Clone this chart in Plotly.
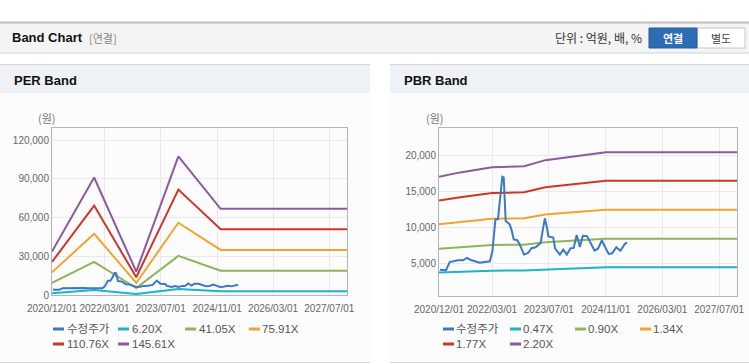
import plotly.graph_objects as go

W, H = 749, 364

# ---------------- data ----------------
price_dates = ["2020-12-09", "2021-01-30", "2021-03-03", "2021-05-13", "2021-06-25", "2021-07-29",
               "2021-09-06", "2021-10-18", "2021-11-16", "2021-12-29", "2022-02-10", "2022-03-04",
               "2022-03-30", "2022-04-21", "2022-05-12", "2022-05-28", "2022-06-09", "2022-06-20",
               "2022-06-26", "2022-07-30", "2022-08-14", "2022-09-03", "2022-10-03", "2022-10-24",
               "2022-11-30", "2023-01-04", "2023-02-02", "2023-03-10", "2023-04-22", "2023-05-06",
               "2023-05-28", "2023-06-15", "2023-06-27", "2023-08-08", "2023-08-24", "2023-10-04",
               "2023-11-02", "2023-12-02", "2024-01-04", "2024-01-30", "2024-02-25", "2024-03-23",
               "2024-04-18", "2024-05-24", "2024-06-19", "2024-07-27", "2024-08-25", "2024-09-28",
               "2024-10-30", "2024-11-25", "2024-12-25", "2025-01-30", "2025-03-05", "2025-04-10",
               "2025-05-01"]
price_values = [4080, 4000, 5140, 5380, 5380, 5700,
                5380, 5240, 5050, 5140, 5240, 6640,
                11080, 11080, 14100, 17000, 16900, 13640,
                10840, 10380, 9680, 8280, 8180, 7580,
                6180, 6400, 7060, 7200, 7800, 9200,
                11220, 9900, 8700, 8550, 7000, 6180,
                6880, 6180, 7060, 7100, 8900, 7250,
                8780, 8740, 7900, 6740, 7000, 8140,
                7100, 6260, 6360, 7200, 6700, 7580,
                7900]

per_dates = ["2020-12-01", "2021-12-01", "2022-12-01", "2023-12-01", "2024-12-01", "2027-12-01"]
per_6_20 = [1430, 3880, 770, 4570, 2950, 2950]
per_41_05 = [9470, 25660, 5300, 30250, 18810, 18810]
per_75_91 = [17520, 47440, 9300, 55940, 34900, 34900]
per_110_76 = [25560, 69220, 13770, 81620, 51000, 51000]
per_145_61 = [33600, 91000, 18100, 107300, 66700, 66700]

pbr_dates = ["2020-12-01", "2021-06-01", "2022-03-01", "2022-12-01", "2023-06-01",
             "2023-12-01", "2024-06-01", "2024-11-01", "2027-12-01"]
pbr_0_47 = [3700, 3800, 3940, 3960, 4140, 4220, 4300, 4400, 4400]
pbr_0_90 = [7000, 7220, 7500, 7560, 7900, 8060, 8210, 8360, 8360]
pbr_1_34 = [10400, 10740, 11150, 11240, 11760, 12000, 12230, 12400, 12400]
pbr_1_77 = [13680, 14160, 14720, 14840, 15530, 15850, 16150, 16430, 16430]
pbr_2_20 = [17000, 17600, 18300, 18450, 19300, 19700, 20080, 20400, 20400]

tick_dates = ["2020-12-01", "2022-03-01", "2023-07-01", "2024-11-01", "2026-03-01", "2027-07-01"]
tick_labels = ["2020/12/01", "2022/03/01", "2023/07/01", "2024/11/01", "2026/03/01", "2027/07/01"]

per_names = ["수정주가", "6.20X", "41.05X", "75.91X", "110.76X", "145.61X"]
pbr_names = ["수정주가", "0.47X", "0.90X", "1.34X", "1.77X", "2.20X"]
colors = ["#3a78c8", "#1eb3c8", "#8db45a", "#f0a431", "#cf3529", "#8c5aa0"]

# ---------------- helpers ----------------
def px(x):
    return x / W

def py(y):
    return 1 - y / H

KR = "Noto Sans CJK KR, Liberation Sans, sans-serif"
NUM = "Liberation Sans, Arial, Noto Sans CJK KR, sans-serif"

fig = go.Figure()

per_series = [per_6_20, per_41_05, per_75_91, per_110_76, per_145_61]
pbr_series = [pbr_0_47, pbr_0_90, pbr_1_34, pbr_1_77, pbr_2_20]

for i, s in enumerate(per_series):
    fig.add_trace(go.Scatter(x=per_dates, y=s, mode="lines", name=per_names[i + 1],
                             line=dict(color=colors[i + 1], width=2), xaxis="x", yaxis="y",
                             showlegend=False))
fig.add_trace(go.Scatter(x=price_dates, y=price_values, mode="lines", name=per_names[0],
                         line=dict(color=colors[0], width=2), xaxis="x", yaxis="y",
                         showlegend=False))

for i, s in enumerate(pbr_series):
    fig.add_trace(go.Scatter(x=pbr_dates, y=s, mode="lines", name=pbr_names[i + 1],
                             line=dict(color=colors[i + 1], width=2), xaxis="x2", yaxis="y2",
                             showlegend=False))
fig.add_trace(go.Scatter(x=price_dates, y=price_values, mode="lines", name=pbr_names[0],
                         line=dict(color=colors[0], width=2), xaxis="x2", yaxis="y2",
                         showlegend=False))

axis_common = dict(showline=True, linecolor="#b4b4b4", linewidth=1, mirror=True,
                   gridcolor="#e9e9e9", gridwidth=1, zeroline=False, ticks="",
                   automargin=False,
                   tickfont=dict(family=NUM, size=10, color="#666"))

xcommon = dict(axis_common, type="date", range=["2020-12-01", "2027-12-01"],
               tickvals=tick_dates, ticktext=tick_labels, tickangle=0,
               ticklabelstandoff=4,
               tickfont=dict(family=NUM, size=10, color="#666"))

fig.update_layout(
    width=W, height=H,
    margin=dict(l=0, r=0, t=0, b=0, autoexpand=False),
    paper_bgcolor="white", plot_bgcolor="white",
    xaxis=dict(xcommon, domain=[px(52), px(347)], anchor="y"),
    yaxis=dict(axis_common, domain=[py(295), py(128)], anchor="x",
               range=[0, 129300], tickvals=[0, 30000, 60000, 90000, 120000],
               tickformat=","),
    xaxis2=dict(xcommon, domain=[px(439), px(737)], anchor="y2"),
    yaxis2=dict(axis_common, domain=[py(296), py(128)], anchor="x2",
                range=[420, 23770], tickvals=[5000, 10000, 15000, 20000],
                tickformat=","),
)

shapes = []
ann = []

# Top bar
shapes.append(dict(type="rect", xref="paper", yref="paper", x0=0, x1=1, y0=py(53), y1=py(22),
                   fillcolor="#f4f4f4", line=dict(width=0), layer="below"))
shapes.append(dict(type="line", xref="paper", yref="paper", x0=0, x1=1, y0=py(22.5), y1=py(22.5),
                   line=dict(color="#bdbdbd", width=2)))
shapes.append(dict(type="line", xref="paper", yref="paper", x0=0, x1=1, y0=py(53), y1=py(53),
                   line=dict(color="#d2d2d2", width=1)))
ann.append(dict(xref="paper", yref="paper", x=px(10), y=py(38), xanchor="left", yanchor="middle",
                text="<b>Band Chart</b>", showarrow=False,
                font=dict(family=NUM, size=13, color="#111")))
ann.append(dict(xref="paper", yref="paper", x=px(87), y=py(38), xanchor="left", yanchor="middle",
                text="[연결]", showarrow=False, font=dict(family=KR, size=11, color="#888")))
ann.append(dict(xref="paper", yref="paper", x=px(644), y=py(38), xanchor="right", yanchor="middle",
                text="단위 : 억원, 배, %", showarrow=False, font=dict(family=KR, size=12, color="#333")))
# buttons
shapes.append(dict(type="rect", xref="paper", yref="paper", x0=px(697), x1=px(745), y0=py(48), y1=py(28),
                   fillcolor="white", line=dict(color="#c6c6c6", width=1)))
shapes.append(dict(type="rect", xref="paper", yref="paper", x0=px(649), x1=px(697), y0=py(48), y1=py(28),
                   fillcolor="#2e6db4", line=dict(color="#255d9e", width=1)))
ann.append(dict(xref="paper", yref="paper", x=px(673), y=py(38), xanchor="center", yanchor="middle",
                text="<b>연결</b>", showarrow=False, font=dict(family=KR, size=11, color="white")))
ann.append(dict(xref="paper", yref="paper", x=px(721), y=py(38), xanchor="center", yanchor="middle",
                text="별도", showarrow=False, font=dict(family=KR, size=11, color="#444")))

# Panels
for (x0, x1, title) in [(0, 370, "PER Band"), (390, 749, "PBR Band")]:
    shapes.append(dict(type="rect", xref="paper", yref="paper", x0=px(x0), x1=px(x1), y0=py(362), y1=py(93),
                       fillcolor="#fcfcfc", line=dict(width=0), layer="below"))
    shapes.append(dict(type="rect", xref="paper", yref="paper", x0=px(x0), x1=px(x1), y0=py(93), y1=py(64),
                       fillcolor="#eef2f7", line=dict(width=0), layer="below"))
    shapes.append(dict(type="line", xref="paper", yref="paper", x0=px(x0), x1=px(x1), y0=py(64.5), y1=py(64.5),
                       line=dict(color="#d8d8d8", width=1)))
    shapes.append(dict(type="line", xref="paper", yref="paper", x0=px(x0), x1=px(x1), y0=py(362.5), y1=py(362.5),
                       line=dict(color="#d8d8d8", width=1)))
    ann.append(dict(xref="paper", yref="paper", x=px(x0 + 12), y=py(80), xanchor="left", yanchor="middle",
                    text="<b>" + title + "</b>", showarrow=False,
                    font=dict(family=NUM, size=13, color="#111")))

# (원) labels
for cx in [47, 435]:
    ann.append(dict(xref="paper", yref="paper", x=px(cx), y=py(118), xanchor="center", yanchor="middle",
                    text="(원)", showarrow=False, font=dict(family=KR, size=11, color="#777")))

# Legends (manual)
def legend_item(lx, tx, ly, color, label):
    shapes.append(dict(type="line", xref="paper", yref="paper", x0=px(lx), x1=px(lx + 11),
                       y0=py(ly), y1=py(ly), line=dict(color=color, width=3)))
    ann.append(dict(xref="paper", yref="paper", x=px(tx), y=py(ly), xanchor="left", yanchor="middle",
                    text=label, showarrow=False, font=dict(family=NUM, size=11.5, color="#555")))

per_leg = [(53, 65, 329), (118, 130, 329), (185, 197, 329), (249, 260, 329), (53, 65, 344), (118, 130, 344)]
pbr_leg = [(443, 454, 329), (510, 521, 329), (575, 586, 329), (640, 651, 329), (443, 454, 344), (510, 521, 344)]
for (lx, tx, ly), c, n in zip(per_leg, colors, per_names):
    legend_item(lx, tx, ly, c, n)
for (lx, tx, ly), c, n in zip(pbr_leg, colors, pbr_names):
    legend_item(lx, tx, ly, c, n)

fig.update_layout(shapes=shapes, annotations=ann)

fig.write_html("out.html", config={"displayModeBar": False},
               post_script="document.body.style.margin='0';document.body.style.overflow='hidden';")
